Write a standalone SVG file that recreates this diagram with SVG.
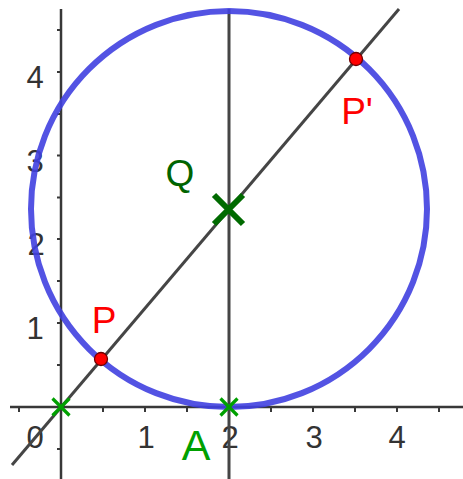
<svg xmlns="http://www.w3.org/2000/svg" width="463" height="479" viewBox="0 0 463 479">
<style>
.axis{stroke:#383838;stroke-width:2.5;fill:none}
.tick{stroke:#383838;stroke-width:2;fill:none}
.num{font-family:"Liberation Sans",Arial,sans-serif;font-size:31px;fill:#333;text-anchor:middle}
.ln{stroke:#454545;stroke-width:3;fill:none}
.lbl{font-family:"Liberation Sans",Arial,sans-serif;font-size:37px}
.pt{fill:#ff0000;stroke:#700000;stroke-width:1.3}
.xs{stroke:#00a000;stroke-width:3.2;fill:none}
</style>
<rect width="463" height="479" fill="#fff"/>
<g id="axes">
<line class="axis" x1="10" y1="407" x2="463" y2="407"/>
<line class="axis" x1="61" y1="9" x2="61" y2="479"/>
<path class="tick" d="M19,407v5M103,407v5M145,407v5M187,407v5M271,407v5M313,407v5M355,407v5M397,407v5M439,407v5"/>
<path class="tick" d="M61,449h-4M61,365h-4M61,323h-4M61,281h-4M61,239h-4M61,197.5h-4M61,155.5h-4M61,114h-4M61,72h-4M61,30h-4"/>
<text class="num" x="35" y="448">0</text>
<text class="num" x="146" y="448">1</text>
<text class="num" x="230" y="448">2</text>
<text class="num" x="314" y="448">3</text>
<text class="num" x="397" y="448">4</text>
<text class="num" x="35" y="339">1</text>
<text class="num" x="36" y="255">2</text>
<text class="num" x="35" y="172">3</text>
<text class="num" x="35" y="88">4</text>
</g>
<g id="connectors">
<line class="ln" x1="229" y1="9" x2="229" y2="479"/>
<line class="ln" x1="12" y1="465" x2="399" y2="9"/>
</g>
<g id="circle">
<circle cx="229" cy="209" r="198" fill="none" stroke="#4040e0" stroke-opacity="0.9" stroke-width="6"/>
</g>
<g id="origin">
<path class="xs" d="M52.5,398.5l17,17M69.5,398.5l-17,17"/>
</g>
<g id="A">
<path class="xs" d="M220.5,398.5l17,17M237.5,398.5l-17,17"/>
<text class="lbl" x="196" y="460" font-size="43" fill="#00a000" text-anchor="middle" style="font-size:43px">A</text>
</g>
<g id="Q">
<path d="M214,195l29,29M243,195l-29,29" stroke="#006a00" stroke-width="6" fill="none"/>
<text class="lbl" x="180" y="186" fill="#006400" text-anchor="middle">Q</text>
</g>
<g id="P">
<circle class="pt" cx="101" cy="359" r="6.5"/>
<text class="lbl" x="104" y="333" fill="#ff0000" text-anchor="middle">P</text>
</g>
<g id="P2">
<circle class="pt" cx="356" cy="59" r="6.5"/>
<text class="lbl" x="357" y="124" fill="#ff0000" text-anchor="middle">P'</text>
</g>
</svg>
